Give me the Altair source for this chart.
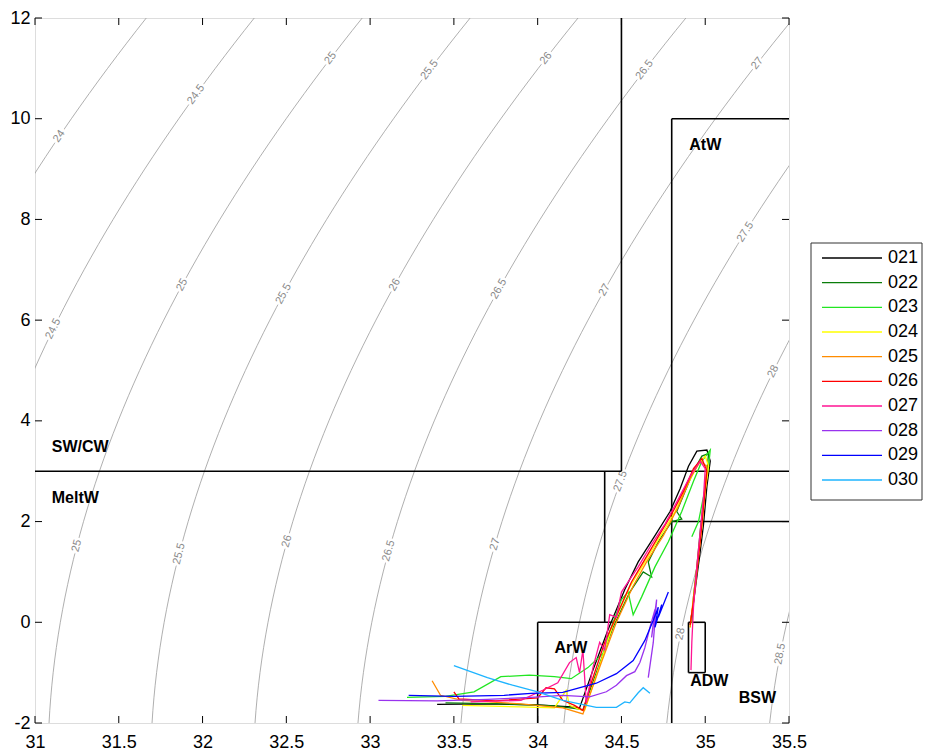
import numpy as np
import pandas as pd
import altair as alt

# ---------------- data ----------------
stations = ["021", "022", "023", "024", "025", "026", "027", "028", "029", "030"]
colors = ["#000000", "#0a7d0a", "#22e622", "#ffff00", "#ff8c00",
          "#ff0000", "#ff1493", "#9933ee", "#0000ff", "#1eb4ff"]

s021 = [33.40, 33.70, 34.00, 34.20, 34.25, 34.33, 34.42, 34.52, 34.60, 34.70, 34.79, 34.85, 34.90, 34.95, 35.01, 35.03, 35.01, 34.99, 34.97, 34.95, 34.93, 34.91]
t021 = [-1.63, -1.62, -1.64, -1.68, -1.70, -0.95, -0.15, 0.65, 1.20, 1.72, 2.20, 2.65, 3.10, 3.40, 3.42, 3.20, 2.70, 1.95, 1.40, 0.90, 0.40, -0.05]

s022 = [33.45, 33.80, 34.10, 34.24, 34.27, 34.35, 34.45, 34.55, 34.63, 34.68, 34.66, 34.72, 34.80, 34.86, 34.83, 34.88, 34.93, 34.98, 35.02, 35.01, 34.99, 34.97, 34.95, 34.93, 34.92]
t022 = [-1.60, -1.62, -1.66, -1.72, -1.74, -1.00, -0.10, 0.60, 1.00, 0.90, 1.20, 1.60, 2.00, 2.05, 2.20, 2.60, 3.00, 3.30, 3.35, 3.00, 2.40, 1.80, 1.10, 0.50, 0.00]

s023 = [33.22, 33.45, 33.62, 33.78, 33.95, 34.10, 34.20, 34.30, 34.39, 34.44, 34.50, 34.54, 34.57, 34.62, 34.70, 34.78, 34.86, 34.93, 34.98, 35.03, 35.02, 34.99, 34.96, 34.92]
t023 = [-1.49, -1.47, -1.38, -1.08, -1.05, -1.08, -1.12, -0.90, -0.62, -0.10, 0.45, 0.60, 0.15, 0.50, 1.10, 1.60, 2.20, 2.80, 3.20, 3.42, 3.10, 2.50, 2.00, 1.70]

s024 = [33.55, 33.90, 34.10, 34.17, 34.19, 34.24, 34.28, 34.36, 34.45, 34.55, 34.64, 34.74, 34.82, 34.89, 34.95, 35.00, 35.02, 35.00, 34.98, 34.96, 34.94, 34.92, 34.91]
t024 = [-1.65, -1.68, -1.70, -1.35, -1.65, -1.72, -1.75, -0.95, -0.05, 0.70, 1.20, 1.75, 2.20, 2.70, 3.10, 3.30, 3.10, 2.60, 1.90, 1.30, 0.70, 0.20, -0.10]

s025 = [33.37, 33.42, 33.55, 33.90, 34.15, 34.27, 34.30, 34.38, 34.47, 34.57, 34.65, 34.75, 34.84, 34.91, 34.97, 35.01, 35.00, 34.98, 34.96, 34.94, 34.92, 34.91]
t025 = [-1.16, -1.45, -1.55, -1.62, -1.70, -1.82, -1.55, -0.80, 0.00, 0.72, 1.20, 1.72, 2.30, 2.85, 3.20, 3.10, 2.70, 2.00, 1.40, 0.80, 0.20, -0.10]

s026 = [33.50, 33.53, 33.75, 34.00, 34.05, 34.10, 34.15, 34.22, 34.27, 34.32, 34.40, 34.48, 34.56, 34.64, 34.72, 34.80, 34.87, 34.93, 34.98, 35.01, 34.99, 34.97, 34.95, 34.93, 34.91]
t026 = [-1.38, -1.52, -1.56, -1.50, -1.30, -1.32, -1.55, -1.65, -1.75, -1.20, -0.40, 0.20, 0.80, 1.25, 1.70, 2.15, 2.60, 3.05, 3.25, 3.00, 2.30, 1.60, 1.00, 0.40, -0.05]

s027 = [33.60, 33.90, 34.03, 34.12, 34.19, 34.23, 34.25, 34.27, 34.29, 34.33, 34.37, 34.40, 34.43, 34.47, 34.50, 34.55, 34.60, 34.68, 34.76, 34.84, 34.91, 34.97, 35.00, 34.99, 34.97, 34.95, 34.93, 34.92, 34.915]
t027 = [-1.58, -1.55, -1.35, -1.20, -0.80, -0.70, -1.00, -0.55, -1.60, -0.90, -0.40, -0.55, 0.15, 0.10, 0.60, 0.85, 1.10, 1.55, 1.95, 2.45, 2.90, 3.20, 3.05, 2.50, 1.80, 1.10, 0.30, -0.40, -0.95]

s028 = [33.05, 33.40, 33.70, 33.96, 34.15, 34.31, 34.41, 34.47, 34.53, 34.58, 34.61, 34.64, 34.67, 34.70, 34.68, 34.71, 34.69, 34.66]
t028 = [-1.55, -1.56, -1.53, -1.49, -1.45, -1.48, -1.38, -1.25, -1.06, -0.98, -0.80, -0.50, -0.10, 0.25, -0.30, 0.45, -0.40, -1.10]

s029 = [33.23, 33.50, 33.80, 33.96, 34.15, 34.35, 34.47, 34.57, 34.64, 34.69, 34.72, 34.70, 34.74, 34.72, 34.78]
t029 = [-1.45, -1.47, -1.45, -1.41, -1.39, -1.21, -1.02, -0.76, -0.36, 0.04, 0.30, -0.10, 0.35, 0.10, 0.60]

s030 = [33.50, 33.70, 33.85, 34.00, 34.15, 34.35, 34.47, 34.52, 34.55, 34.60, 34.63, 34.67]
t030 = [-0.86, -1.10, -1.25, -1.38, -1.55, -1.69, -1.69, -1.58, -1.60, -1.40, -1.30, -1.41]

profile_s = [s021, s022, s023, s024, s025, s026, s027, s028, s029, s030]
profile_t = [t021, t022, t023, t024, t025, t026, t027, t028, t029, t030]

# water-mass boundaries (segments) and names
seg_s1 = [34.5, 31.0, 34.8, 34.8, 34.8, 34.4, 34.0, 34.0, 34.8, 34.8, 34.9, 34.9, 35.0, 34.9]
seg_t1 = [3.0, 3.0, 3.0, 10.0, 3.0, 0.0, 0.0, -2.0, -2.0, 2.0, 0.0, -1.0, -1.0, 0.0]
seg_s2 = [34.5, 34.5, 35.5, 35.5, 34.8, 34.4, 34.8, 34.0, 34.8, 35.5, 35.0, 35.0, 35.0, 34.9]
seg_t2 = [12.0, 3.0, 3.0, 10.0, 10.0, 3.0, 0.0, 0.0, 3.0, 2.0, 0.0, -1.0, 0.0, -1.0]

mass_names = ["SW/CW", "MeltW", "AtW", "ArW", "ADW", "BSW"]
mass_s = [31.10, 31.10, 34.905, 34.10, 34.91, 35.20]
mass_t = [3.49, 2.47, 9.48, -0.51, -1.175, -1.50]

# isopycnal levels and where their labels sit (level, temperature)
sigma_levels = [24.0, 24.5, 25.0, 25.5, 26.0, 26.5, 27.0, 27.5, 28.0, 28.5]
label_level = [24.0, 24.5, 25.0, 25.5, 26.0, 26.5, 27.0,
               24.5, 25.0, 25.5, 26.0, 26.5, 27.0, 27.5, 28.0,
               25.0, 25.5, 26.0, 26.5, 27.0, 27.5, 28.0, 28.5]
label_t = [9.65, 10.48, 11.2, 10.97, 11.2, 10.97, 11.1,
           5.83, 6.7, 6.52, 6.7, 6.62, 6.6, 7.75, 4.98,
           1.52, 1.36, 1.61, 1.42, 1.55, 2.8, -0.23, -0.63]

x_ticks = [31, 31.5, 32, 32.5, 33, 33.5, 34, 34.5, 35, 35.5]
y_ticks = [-2, 0, 2, 4, 6, 8, 10, 12]

S_MIN, S_MAX, T_MIN, T_MAX = 31.0, 35.5, -2.0, 12.0
W, H = 754, 705


# ---------------- seawater density (UNESCO 1983, p = 0) ----------------
def sigma0(S, T):
    rw = (999.842594 + 6.793952e-2 * T - 9.095290e-3 * T**2 + 1.001685e-4 * T**3
          - 1.120083e-6 * T**4 + 6.536332e-9 * T**5)
    b = 8.24493e-1 - 4.0899e-3 * T + 7.6438e-5 * T**2 - 8.2467e-7 * T**3 + 5.3875e-9 * T**4
    c = -5.72466e-3 + 1.0227e-4 * T - 1.6546e-6 * T**2
    return rw + b * S + c * S**1.5 + 4.8314e-4 * S**2 - 1000.0


def salt_on(level, T):
    lo, hi = 20.0, 42.0
    for _ in range(60):
        mid = 0.5 * (lo + hi)
        if sigma0(mid, T) < level:
            lo = mid
        else:
            hi = mid
    return 0.5 * (lo + hi)


t_grid = np.arange(-2.5, 12.51, 0.25)
rows = []
for lev in sigma_levels:
    for i, t in enumerate(t_grid):
        rows.append({"level": lev, "S": salt_on(lev, t), "T": float(t), "i": i})
contours = pd.DataFrame(rows)
contours = contours[(contours.S > 30.5) & (contours.S < 36.0)]

px_s = W / (S_MAX - S_MIN)
px_t = H / (T_MAX - T_MIN)
lab_rows = []
for lev, t in zip(label_level, label_t):
    s = salt_on(lev, t)
    ds = salt_on(lev, t + 0.05) - salt_on(lev, t - 0.05)
    ang = np.degrees(np.arctan2(-0.1 * px_t, ds * px_s)) % 360
    lab_rows.append({"S": s, "T": t, "angle": float(ang), "txt": "%g" % lev})
labels = pd.DataFrame(lab_rows)

prow = []
for st, ss, tt in zip(stations, profile_s, profile_t):
    for i, (s, t) in enumerate(zip(ss, tt)):
        prow.append({"station": st, "S": s, "T": t, "i": i})
profiles = pd.DataFrame(prow)

segs = pd.DataFrame({"S": seg_s1, "T": seg_t1, "S2": seg_s2, "T2": seg_t2})
masses = pd.DataFrame({"S": mass_s, "T": mass_t, "name": mass_names})
xt = pd.DataFrame({"S": x_ticks})
yt = pd.DataFrame({"T": y_ticks})
leg = pd.DataFrame({"station": stations})

# ---------------- chart ----------------
xs = alt.Scale(domain=[S_MIN, S_MAX], nice=False, zero=False)
ys = alt.Scale(domain=[T_MIN, T_MAX], nice=False, zero=False)
FONT = "Liberation Sans"
color_scale = alt.Scale(domain=stations, range=colors)

x_axis = alt.Axis(values=x_ticks, labelExpr="'' + datum.value", title=None, grid=False,
                  ticks=False, domain=False, labelFontSize=18, labelFont=FONT,
                  labelColor="black", labelPadding=10, labelFlush=False)
y_axis = alt.Axis(values=y_ticks, labelExpr="'' + datum.value", title=None, grid=False,
                  ticks=False, domain=False, labelFontSize=18, labelFont=FONT,
                  labelColor="black", labelPadding=5)

X = alt.X("S:Q", scale=xs)
Y = alt.Y("T:Q", scale=ys, axis=None)

contour_layer = alt.Chart(contours).mark_line(color="#9a9a9a", strokeWidth=0.8, clip=True).encode(
    x=alt.X("S:Q", scale=xs, axis=x_axis),
    y=alt.Y("T:Q", scale=ys, axis=y_axis),
    detail="level:N",
    order="i:Q",
)

halo = alt.Chart(labels).mark_text(font=FONT, fontSize=11, stroke="white", strokeWidth=5,
                                   fill="white", align="center", baseline="middle").encode(
    x=X, y=Y, text="txt:N", angle=alt.Angle("angle:Q", scale=None))

clabels = alt.Chart(labels).mark_text(font=FONT, fontSize=11, color="#8a8a8a",
                                      align="center", baseline="middle").encode(
    x=X, y=Y, text="txt:N", angle=alt.Angle("angle:Q", scale=None))

boxes = alt.Chart(segs).mark_rule(color="black", strokeWidth=1.6).encode(
    x=X, y=Y, x2="S2:Q", y2="T2:Q")

prof = alt.Chart(profiles).mark_line(strokeWidth=1.3, clip=True).encode(
    x=X, y=Y,
    color=alt.Color("station:N", scale=color_scale, legend=None),
    order="i:Q",
)

mass_text = alt.Chart(masses).mark_text(font=FONT, fontSize=16, fontWeight="bold", color="black",
                                        align="left", baseline="middle").encode(
    x=X, y=Y, text="name:N")

tk = 7
tick_b = alt.Chart(xt).mark_rule(color="black").encode(x=X, y=alt.value(H), y2=alt.value(H - tk))
tick_t = alt.Chart(xt).mark_rule(color="black").encode(x=X, y=alt.value(0), y2=alt.value(tk))
tick_l = alt.Chart(yt).mark_rule(color="black").encode(y=Y, x=alt.value(0), x2=alt.value(tk))
tick_r = alt.Chart(yt).mark_rule(color="black").encode(y=Y, x=alt.value(W), x2=alt.value(W - tk))

# legend (drawn with its own point scale for the rows)
leg_y = alt.Y("station:N", scale=alt.Scale(type="point", domain=stations, range=[240, 462], padding=0),
              axis=None)
leg_box = alt.Chart(pd.DataFrame({"a": [0]})).mark_rect(fill="white", stroke="#333333", strokeWidth=1).encode(
    x=alt.value(776), x2=alt.value(887), y=alt.value(225), y2=alt.value(482))
leg_lines = alt.Chart(leg).mark_rule(strokeWidth=1.3).encode(
    x=alt.value(787), x2=alt.value(847), y=leg_y,
    color=alt.Color("station:N", scale=color_scale, legend=None))
leg_text = alt.Chart(leg).mark_text(font=FONT, fontSize=18, color="black", align="left",
                                    baseline="middle").encode(
    x=alt.value(853), y=leg_y, text="station:N")

chart = alt.layer(contour_layer, halo, clabels, boxes, prof, mass_text,
                  tick_b, tick_t, tick_l, tick_r, leg_box, leg_lines, leg_text).resolve_scale(
    y="independent").properties(
    width=W, height=H,
    autosize=alt.AutoSizeParams(type="none"),
    padding={"left": 27, "top": 10, "right": 134, "bottom": 30},
).configure_view(stroke="black", strokeWidth=1.2).configure(background="white")

chart.save("out.html", embed_options={"renderer": "svg", "actions": False})
